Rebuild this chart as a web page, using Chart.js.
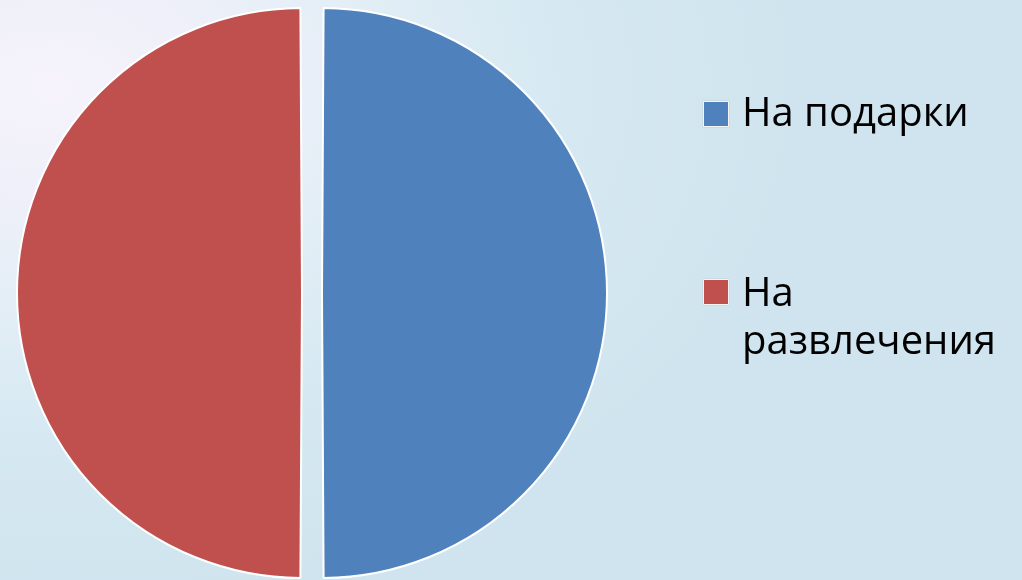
<!DOCTYPE html>
<html>
<head>
<meta charset="utf-8">
<script src="https://cdn.jsdelivr.net/npm/chart.js@4"></script>
<style>
  html, body { margin: 0; padding: 0; }
  body {
    width: 1022px; height: 580px; overflow: hidden; position: relative;
    background: radial-gradient(ellipse 75% 90% at 5% 15%, #f6f3fc 0%, #eff0f9 20%, #e3eef6 42%, #d6e9f2 66%, #cfe4ee 100%);
  }
  #wrap { position: absolute; left: 0; top: 0; width: 1022px; height: 580px; }
  .leg { position: absolute; left: 0; top: 0; font-family: "Open Sans", sans-serif; font-size: 40px; line-height: 48px; color: #000; }
  .item { position: absolute; left: 742px; white-space: nowrap; }
  .box { position: absolute; left: 703px; width: 24px; height: 24px; border: 1.5px solid #f4f4f4; box-shadow: 0 0 1px #aaa; }
</style>
</head>
<body>
<div id="wrap"><canvas id="c" width="1022" height="580"></canvas></div>
<div class="leg" id="leg"></div>
<script>
const categories = ["На подарки", "На развлечения"];
const legendLines = [["На подарки"], ["На", "развлечения"]];
const values = [50, 50];
const colors = ["#4f81bd", "#c0504d"];

const legendTops = [87, 267];
const boxTops = [101, 279];
const leg = document.getElementById('leg');
categories.forEach((c, i) => {
  const b = document.createElement('div');
  b.className = 'box';
  b.style.top = boxTops[i] + 'px';
  b.style.background = colors[i];
  leg.appendChild(b);
  const t = document.createElement('div');
  t.className = 'item';
  t.style.top = legendTops[i] + 'px';
  t.innerHTML = legendLines[i].join('<br>');
  leg.appendChild(t);
});

new Chart(document.getElementById('c'), {
  type: 'pie',
  data: {
    labels: categories,
    datasets: [{
      data: values,
      backgroundColor: colors,
      borderColor: '#ffffff',
      borderWidth: 2,
      offset: 40,
      hoverOffset: 0
    }]
  },
  options: {
    responsive: false,
    animation: false,
    radius: 275,
    layout: { padding: { left: 0, right: 398, top: 6, bottom: 0 } },
    plugins: { legend: { display: false }, tooltip: { enabled: false } }
  }
});
</script>
</body>
</html>
